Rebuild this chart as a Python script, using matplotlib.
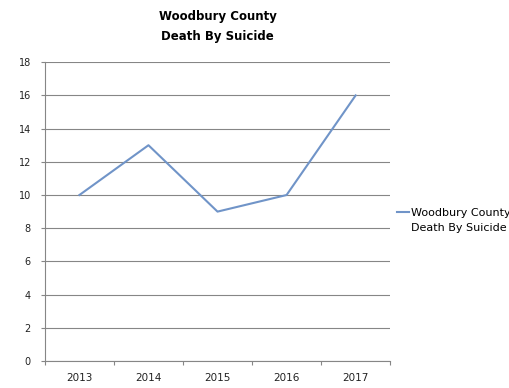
import matplotlib.pyplot as plt

years = ['2013', '2014', '2015', '2016', '2017']
deaths = [10, 13, 9, 10, 16]
yticks = list(range(0, 19, 2))
series_lines = ['Woodbury County', 'Death By Suicide']

plt.rcParams['font.family'] = ['DejaVu Sans']

fig = plt.figure(figsize=(5.1, 3.88), dpi=100)
ax = fig.add_axes([0.088, 0.0696, 0.677, 0.770])

x = list(range(len(years)))
ax.plot(x, deaths, color='#7094c8', linewidth=1.5, label=series_lines[0])
# second legend line, aligned like the Excel legend (handle beside first line)
ax.plot([], [], color='none', label=series_lines[1])

ax.set_xlim(-0.5, len(years) - 0.5)
ax.set_ylim(0, 18)
ax.set_yticks(yticks)
ax.set_yticklabels([str(v) for v in yticks], fontsize=7, color='#222222')
ax.set_xticks([i - 0.5 for i in range(len(years) + 1)])
ax.set_xticklabels([])
ax.set_xticks(x, minor=True)
ax.set_xticklabels(years, minor=True, fontsize=7.5, color='#222222')
ax.tick_params(axis='x', which='minor', length=0, pad=9)
ax.tick_params(axis='both', which='major', length=3, color='#868686', width=0.8)
ax.tick_params(axis='y', pad=7)

ax.yaxis.grid(True, color='#868686', linewidth=0.8)
ax.set_axisbelow(True)
for s in ['top', 'right']:
    ax.spines[s].set_visible(False)
for s in ['left', 'bottom']:
    ax.spines[s].set_color('#868686')
    ax.spines[s].set_linewidth(0.8)

ax.set_title('Woodbury County\nDeath By Suicide', fontsize=8.5, fontweight='bold',
             pad=16, linespacing=1.75)

ax.legend(loc='center left', bbox_to_anchor=(1.02, 0.47), frameon=False,
          fontsize=8, handlelength=1.05, handletextpad=0.2, borderaxespad=0,
          borderpad=0, labelspacing=0.45)

fig.savefig('out.png', dpi=100)
